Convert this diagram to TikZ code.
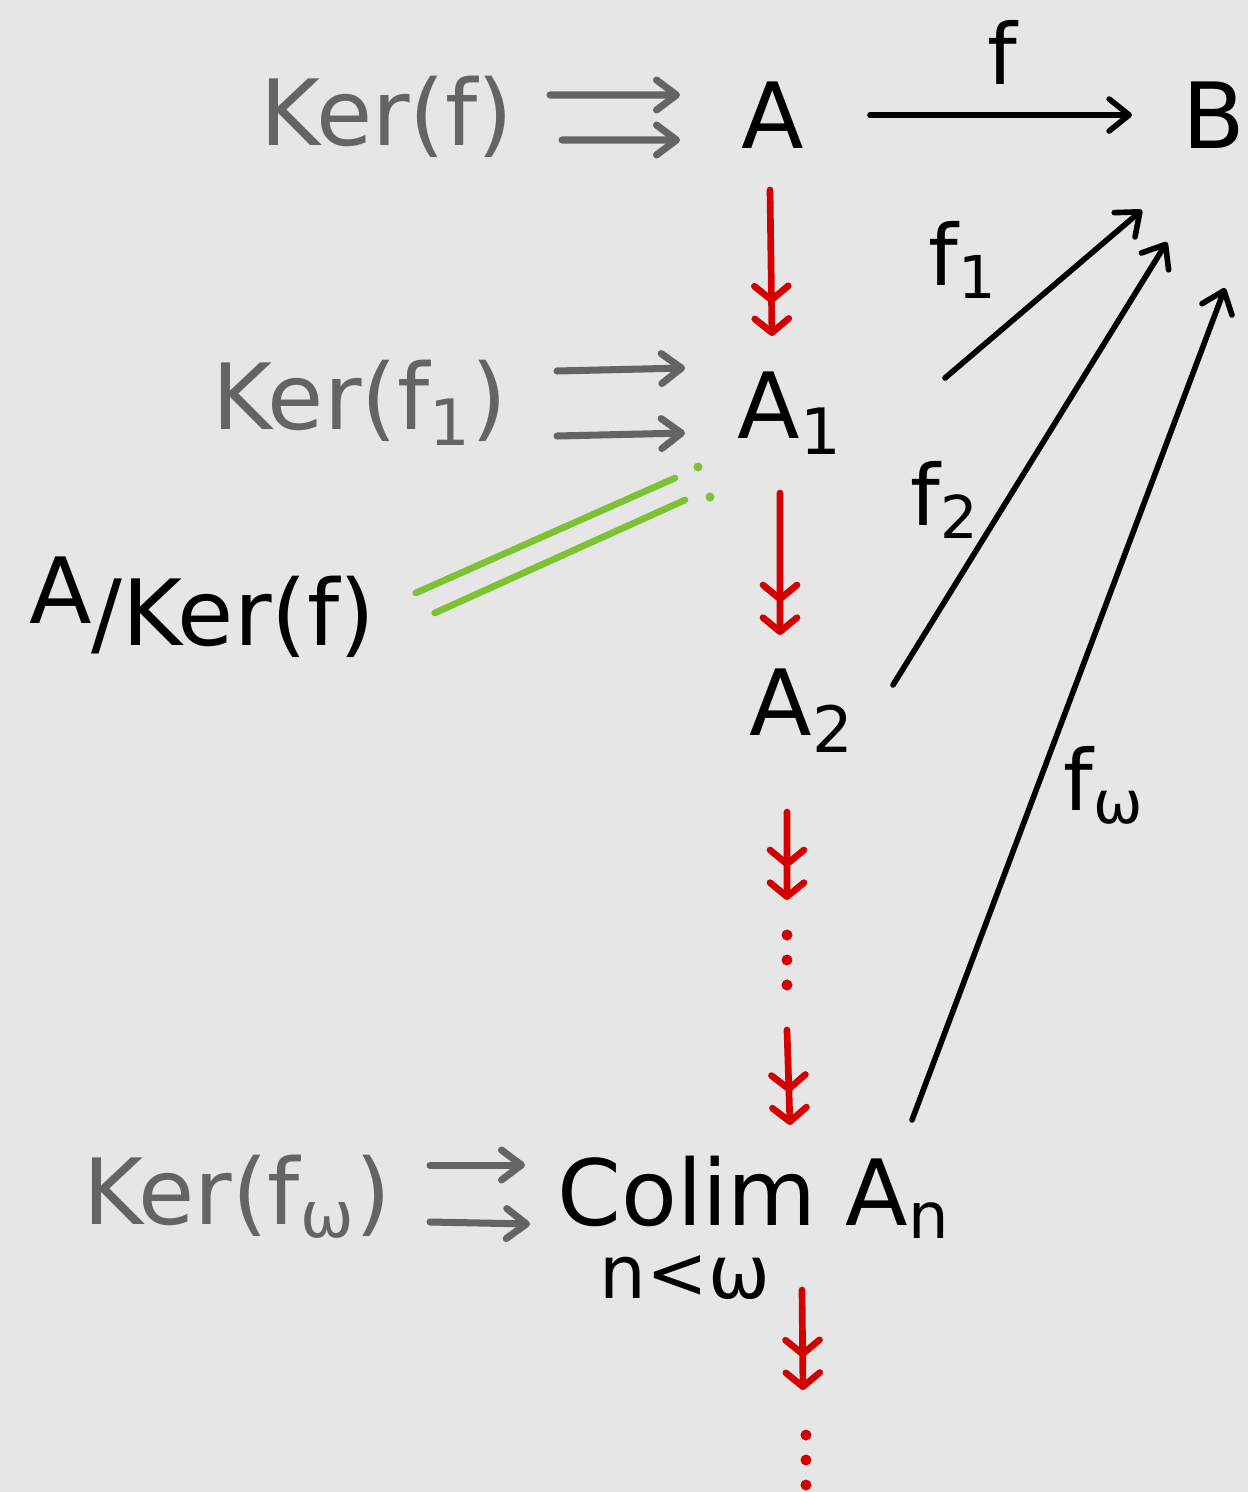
\documentclass[tikz,border=0pt]{standalone}
\usepackage{fontspec}
\setmainfont{DejaVu Sans}
\usetikzlibrary{arrows.meta}

\definecolor{paper}{RGB}{230,230,230}
\definecolor{kergray}{RGB}{100,100,100}
\definecolor{epired}{RGB}{212,0,0}
\definecolor{isogreen}{RGB}{125,194,50}

\begin{document}
\begin{tikzpicture}[x=1cm,y=1cm]
\tikzset{
  obj/.style={inner sep=0pt,text=black,font=\fontsize{26}{30}\selectfont},
  kernel/.style={obj,text=kergray},
  maplabel/.style={inner sep=0pt,font=\fontsize{24}{28}\selectfont},
  pairarrow/.style={draw=kergray,line width=2pt,line cap=round,-{Straight Barb[length=2mm,width=3mm,round]}},
  map/.style={draw=black,line width=1.6pt,line cap=round,-{Straight Barb[length=2mm,width=3.2mm,round]}},
  epi/.style={draw=epired,line width=1.9pt,line cap=round,
    -{Straight Barb[length=1.4mm,width=3.4mm,round,sep=1.2mm]Straight Barb[length=1.4mm,width=3.4mm,round]}},
  iso/.style={draw=isogreen,line width=1.9pt,line cap=round}
}
\fill[paper] (0,0) rectangle (12.48,-14.92);
\useasboundingbox (0,0) rectangle (12.48,-14.92);

% objects
\node[obj] (A) at (7.73,-1.15) {A};
\node[obj] (B) at (12.14,-1.15) {B};
\node[obj] (Aone) at (7.90,-4.13) {A\textsubscript{1}};
\node[obj] (Atwo) at (8.02,-7.11) {A\textsubscript{2}};
\node[obj] (colim) at (7.54,-11.97) {Colim A\textsubscript{n}};
\node[inner sep=0pt,font=\fontsize{21}{25}\selectfont] (colimidx) at (6.85,-12.78) {n<ω};
\node[obj] (quot) at (2.02,-6.07) {\raisebox{0.22cm}{A}/Ker(f)};

% kernels
\node[kernel] (kerf) at (3.87,-1.17) {Ker(f)};
\node[kernel] (kerfone) at (3.60,-4.03) {Ker(f\textsubscript{1})};
\node[kernel] (kerfw) at (2.37,-11.97) {Ker(f\textsubscript{ω})};

% dots
\node[inner sep=0pt,minimum height=6mm] (dotsone) at (7.87,-9.60) {};
\node[inner sep=0pt,minimum height=6mm] (dotstwo) at (8.06,-14.60) {};
\foreach \dy in {0.25,0,-0.25} {
  \fill[epired] ([yshift=\dy cm]dotsone.center) circle (0.055);
  \fill[epired] ([yshift=\dy cm]dotstwo.center) circle (0.055);
}

% f and its factorisations
\draw[map,shorten <=6.5mm,shorten >=5mm] (A.east) -- (B.west);
\node[maplabel] (flabel) at (10.02,-0.52) {f};
\draw[map] ([shift={(1.55,0.35)}]Aone.center) -- ([shift={(-0.72,-0.95)}]B.center);
\node[maplabel] (fonelabel) at (9.63,-2.60) {f\textsubscript{1}};
\draw[map] ([shift={(0.91,0.26)}]Atwo.center) -- ([shift={(-0.47,-1.27)}]B.center);
\node[maplabel] (ftwolabel) at (9.45,-5.00) {f\textsubscript{2}};
\draw[map] ([shift={(1.58,0.77)}]colim.center) -- ([shift={(0.11,-1.73)}]B.center);
\node[maplabel] (fwlabel) at (11.04,-7.85) {f\textsubscript{ω}};

% kernel pairs
\draw[pairarrow] ([shift={(1.63,0.22)}]kerf.center) -- ([shift={(-0.93,0.20)}]A.center);
\draw[pairarrow] ([shift={(1.75,-0.23)}]kerf.center) -- ([shift={(-0.93,-0.25)}]A.center);
\draw[pairarrow] ([shift={(1.97,0.32)}]kerfone.center) -- ([shift={(-1.05,0.45)}]Aone.center);
\draw[pairarrow] ([shift={(1.97,-0.33)}]kerfone.center) -- ([shift={(-1.05,-0.20)}]Aone.center);
\draw[pairarrow] ([shift={(1.93,0.32)}]kerfw.center) -- ([shift={(-2.29,0.32)}]colim.center);
\draw[pairarrow] ([shift={(1.93,-0.25)}]kerfw.center) -- ([shift={(-2.24,-0.27)}]colim.center);

% the chain
\draw[epi] ([shift={(-0.03,-0.75)}]A.center) -- ([shift={(-0.18,0.77)}]Aone.center);
\draw[epi] ([shift={(-0.10,-0.80)}]Aone.center) -- ([shift={(-0.22,0.76)}]Atwo.center);
\draw[epi] ([shift={(-0.15,-1.01)}]Atwo.center) -- ([yshift=0.60cm]dotsone.center);
\draw[epi] ([yshift=-0.70cm]dotsone.center) -- ([shift={(0.36,0.72)}]colim.center);
\draw[epi] ([shift={(0.48,-0.93)}]colim.center) -- ([shift={(-0.03,0.70)}]dotstwo.center);

% iso
\draw[iso] ([shift={(0.40,0.14)}]quot.east) -- ([shift={(-1.15,-0.65)}]Aone.center);
\draw[iso] ([shift={(0.59,-0.06)}]quot.east) -- ([shift={(-1.05,-0.87)}]Aone.center);
\fill[isogreen] ([shift={(-0.92,-0.54)}]Aone.center) circle (0.045);
\fill[isogreen] ([shift={(-0.80,-0.84)}]Aone.center) circle (0.045);
\end{tikzpicture}
\end{document}
